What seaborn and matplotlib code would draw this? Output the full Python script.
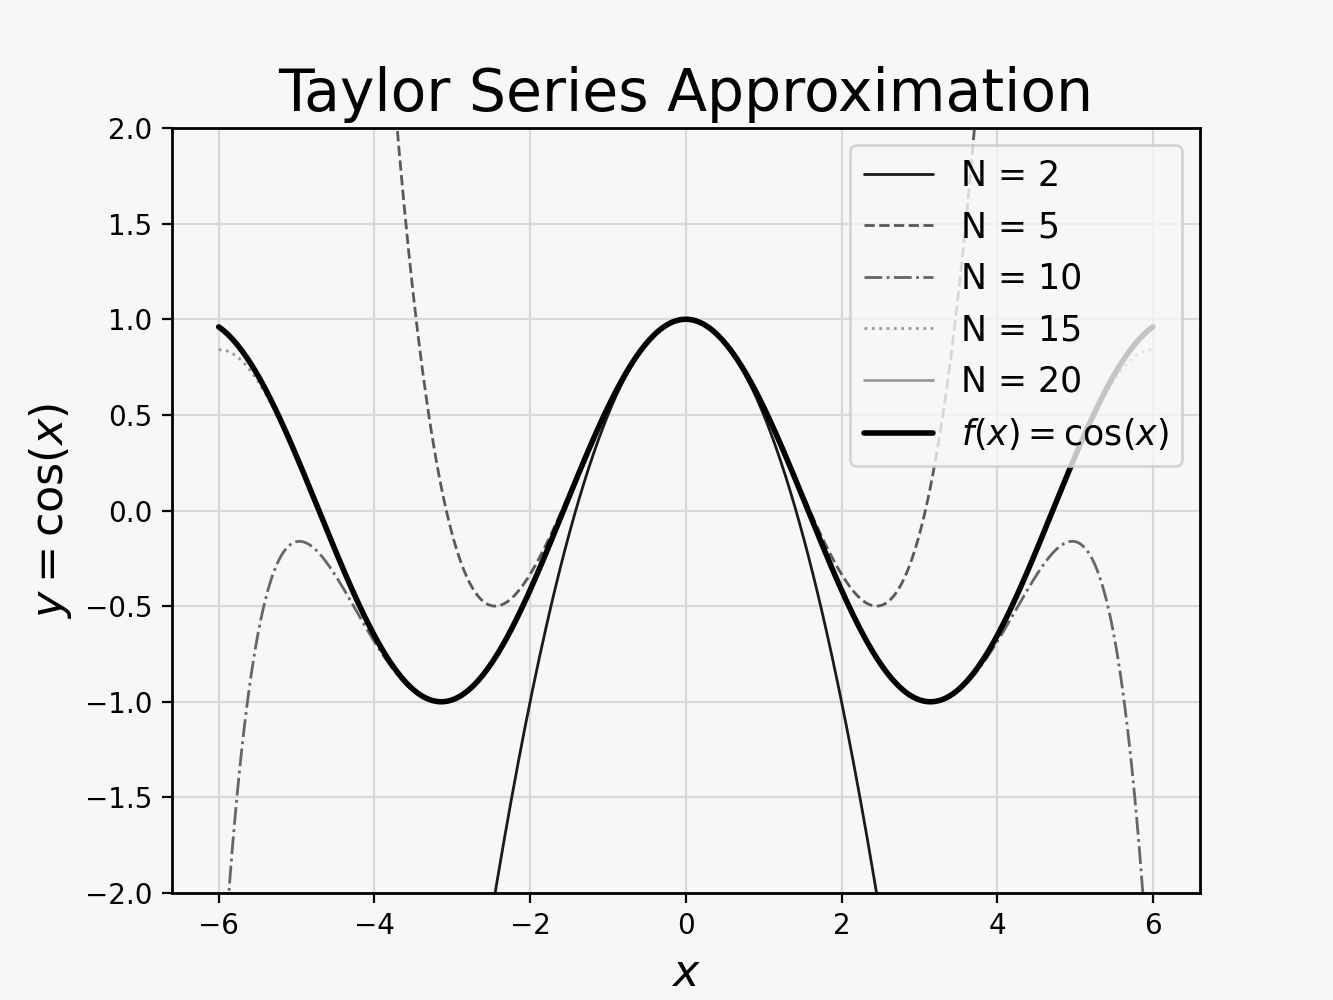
import numpy as np
import pandas as pd
import matplotlib
matplotlib.use("Agg")
import matplotlib.pyplot as plt
import seaborn as sns
from math import factorial

# ---------------------------------------------------
# data: Taylor orders, line styles and the x range
# ---------------------------------------------------
orders = [2, 5, 10, 15, 20]
order_labels = ["N = 2", "N = 5", "N = 10", "N = 15", "N = 20"]
x_range = [-6, 6]
x_ticks = [-6, -4, -2, 0, 2, 4, 6]
y_ticks = [-2.0, -1.5, -1.0, -0.5, 0.0, 0.5, 1.0, 1.5, 2.0]

line_styles = ["-", "--", "-.", ":", "-"]
line_colors = ["0.1", "0.35", "0.4", "0.6", "0.6"]


def taylor_cos(x, n):
    # partial sum of the cosine series up to power n
    total = np.zeros_like(x)
    for k in range(n // 2 + 1):
        total += (-1) ** k * x ** (2 * k) / factorial(2 * k)
    return total


x = np.linspace(x_range[0], x_range[1], 400)
frames = []
for n, lab in zip(orders, order_labels):
    frames.append(pd.DataFrame({"x": x, "y": taylor_cos(x, n), "series": lab}))
df = pd.concat(frames, ignore_index=True)
df_cos = pd.DataFrame({"x": x, "y": np.cos(x)})

# ---------------------------------------------------
# style
# ---------------------------------------------------
sns.set_style("ticks", {
    "axes.grid": True,
    "grid.color": "#d9d9d9",
    "axes.edgecolor": "black",
    "axes.facecolor": "#f7f7f7",
    "figure.facecolor": "#f7f7f7",
    "text.color": "black",
    "axes.labelcolor": "black",
    "xtick.color": "black",
    "ytick.color": "black",
})
plt.rcParams['font.family'] = ['DejaVu Sans']

fig, ax = plt.subplots(figsize=(6.665, 5), dpi=200)

for lab, ls, col in zip(order_labels, line_styles, line_colors):
    sub = df[df["series"] == lab]
    sns.lineplot(data=sub, x="x", y="y", ax=ax, label=lab,
                 linestyle=ls, color=col, linewidth=1.0)

sns.lineplot(data=df_cos, x="x", y="y", ax=ax, label=r"$f(x) = \cos(x)$",
             color="black", linewidth=2.0)

ax.set_ylim(-2, 2)
ax.set_xlim(-6.6, 6.6)
ax.set_xticks(x_ticks)
ax.set_yticks(y_ticks)
ax.tick_params(labelsize=10, direction="out", length=3.5)
for s in ax.spines.values():
    s.set_linewidth(1.0)

ax.set_title("Taylor Series Approximation", fontsize=21, color="black")
ax.set_xlabel("$x$", fontsize=16)
ax.set_ylabel(r"$y = \cos(x)$", fontsize=16)

leg = ax.legend(loc="upper right", fontsize=12.5, framealpha=0.8,
                facecolor="#f7f7f7", edgecolor="#cccccc")
for t in leg.get_texts():
    t.set_color("black")

plt.subplots_adjust(left=0.129, right=0.900, top=0.872, bottom=0.107)
plt.savefig("out.png", dpi=200)
